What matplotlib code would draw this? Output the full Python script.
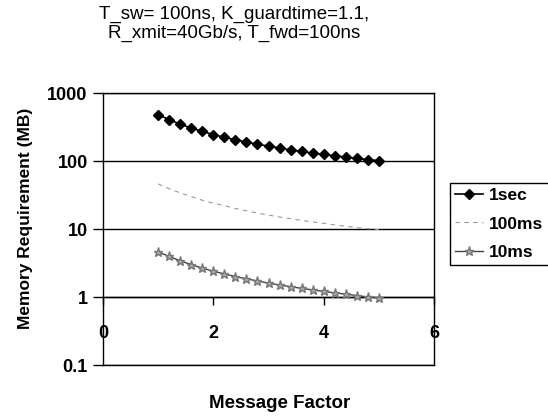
import matplotlib
matplotlib.use('Agg')
import matplotlib.pyplot as plt
import numpy as np

# Series
msg_factor = [1.0, 1.2, 1.4, 1.6, 1.8, 2.0, 2.2, 2.4, 2.6, 2.8, 3.0,
              3.2, 3.4, 3.6, 3.8, 4.0, 4.2, 4.4, 4.6, 4.8, 5.0]
mem_1sec = [480, 405, 348, 305, 272, 245, 223, 205, 190, 177, 165,
            155, 146, 138, 131, 125, 119, 114, 109, 105, 101]
mem_100ms = [46, 39, 34, 30, 26.5, 24, 22, 20, 18.5, 17.2, 16,
             15, 14.2, 13.4, 12.7, 12.1, 11.5, 11, 10.5, 10.1, 9.8]
mem_10ms = [4.6, 3.95, 3.4, 3.0, 2.65, 2.4, 2.18, 2.0, 1.85, 1.72, 1.6,
            1.5, 1.42, 1.34, 1.27, 1.21, 1.15, 1.1, 1.05, 1.0, 0.97]
series_labels = ['1sec', '100ms', '10ms']
y_ticks = [0.1, 1, 10, 100, 1000]
y_tick_labels = ['0.1', '1', '10', '100', '1000']
x_ticks = [0, 2, 4, 6]

title_lines = ['T_sw= 100ns, K_guardtime=1.1,', 'R_xmit=40Gb/s, T_fwd=100ns']

def bold(size):
    return {'family': ['Liberation Sans', 'DejaVu Sans'],
            'weight': 'bold', 'size': size}

fig = plt.figure(figsize=(5.48, 4.16), dpi=100)
ax = fig.add_axes([103/548, 1 - 365/416, (434 - 103)/548, (365 - 93)/416])

ax.plot(msg_factor, mem_1sec, color='black', linewidth=1.2,
        marker='D', markersize=5.5, label=series_labels[0])
ax.plot(msg_factor, mem_100ms, color='#999999', linewidth=0.8,
        linestyle=(0, (4, 4)), label=series_labels[1])
ax.plot(msg_factor, mem_10ms, color='#444444', linewidth=1.0,
        marker='*', markersize=6.5, markerfacecolor='#aaaaaa',
        markeredgecolor='#777777', label=series_labels[2])

ax.set_yscale('log')
ax.set_ylim(0.1, 1000)
ax.set_xlim(0, 6)
ax.set_yticks(y_ticks)
ax.set_yticklabels(y_tick_labels, fontdict=bold(13))
ax.yaxis.set_minor_locator(matplotlib.ticker.NullLocator())
ax.tick_params(axis='y', direction='out', length=7, width=1, pad=4)
ax.grid(axis='y', color='black', linewidth=1)

# x axis crosses at y = 1 (Excel style)
ax.set_xticks([])
sec = ax.secondary_xaxis(0.25)
sec.set_xticks(x_ticks)
sec.set_xticklabels([str(t) for t in x_ticks], fontdict=bold(13))
sec.tick_params(direction='out', length=6, width=1, pad=14)
sec.spines['bottom'].set_linewidth(1)

for s in ax.spines.values():
    s.set_linewidth(1)
    s.set_color('black')

fig.text(26/548, 1 - 218/416, 'Memory Requirement (MB)', rotation=90,
         ha='center', va='center', fontdict=bold(12.5))
fig.text(280/548, 1 - 404/416, 'Message Factor', ha='center', va='center',
         fontdict=bold(13.5))

for line, ypix in zip(title_lines, [14, 33.5]):
    fig.text(234/548, 1 - ypix/416, line, ha='center', va='center',
             fontsize=13.5, family='Liberation Sans')

leg = fig.legend(loc='upper left', bbox_to_anchor=(450/548, 1 - 183/416),
                 prop=bold(12.5), fancybox=False, edgecolor='black',
                 handlelength=1.6, handletextpad=0.35, labelspacing=0.75,
                 borderpad=0.3, borderaxespad=0, framealpha=1)
leg.get_frame().set_linewidth(1)

fig.savefig('out.png', dpi=100)
